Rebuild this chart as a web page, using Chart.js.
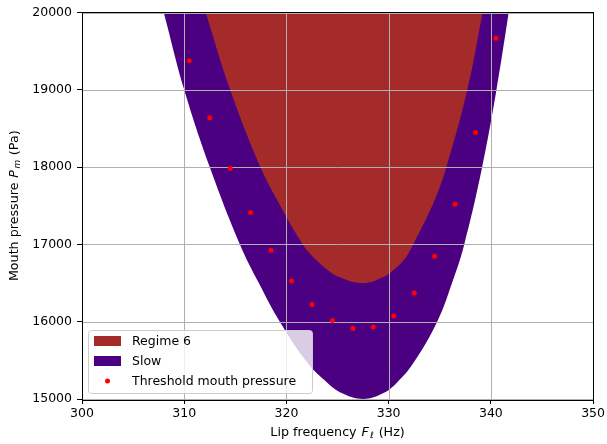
<!DOCTYPE html>
<html>
<head>
<meta charset="utf-8">
<script src="https://cdn.jsdelivr.net/npm/chart.js@4.4.1/dist/chart.umd.min.js"></script>
<style>
  body { margin: 0; background: #fff; }
  #wrap { width: 607px; height: 444px; }
</style>
</head>
<body>
<div id="wrap"><canvas id="chart" width="607" height="444"></canvas></div>
<script>
// threshold mouth pressure, one point every 2 Hz
const lipFreq = [310.5, 312.5, 314.5, 316.5, 318.5, 320.5, 322.5, 324.5,
                 326.5, 328.5, 330.5, 332.5, 334.5, 336.5, 338.5, 340.5];
const thresholdPm = [19376, 18640, 17982, 17412, 16925, 16527, 16221, 16015,
                     15912, 15930, 16075, 16372, 16846, 17520, 18446, 19667];

// lower edge of the "Slow" region (filled up to the top)
const slowEdgeF  = [308.0, 310.0, 312.5, 315.45, 317.3, 319.35, 322.1, 324.0, 325.4, 327.5,
                    329.5, 330.8, 332.4, 334.75, 336.2, 337.4, 339.15, 340.55, 341.75];
const slowEdgePm = [20000, 19000, 18000, 17000, 16500, 16000, 15461, 15210, 15077, 15000,
                    15077, 15210, 15461, 16000, 16500, 17000, 18000, 19000, 20000];

// lower edge of the "Regime 6" region
const regime6EdgeF  = [312.1, 314.5, 317.45, 319.1, 321.6, 322.9, 324.0, 325.0, 327.5,
                       329.6, 330.5, 331.5, 332.4, 334.5, 335.65, 337.7, 339.2];
const regime6EdgePm = [20000, 19000, 18000, 17571, 17000, 16800, 16671, 16585, 16499,
                       16585, 16671, 16800, 17000, 17571, 18000, 19000, 20000];

const xTicks = [300, 310, 320, 330, 340, 350];
const yTicks = [15000, 16000, 17000, 18000, 19000, 20000];

const legendOrder = ['Regime 6', 'Slow', 'Threshold mouth pressure'];

const FONT = "'DejaVu Sans', sans-serif";
const FSIZE = 12.5;
const TSIZE = 12.7;

function toPoints(xs, ys) {
  return xs.map((x, i) => ({ x: x, y: ys[i] }));
}

// grid goes above the filled regions but below the points
const gridOnTop = {
  id: 'gridOnTop',
  beforeDatasetDraw(chart, args) {
    if (args.index !== 0) return;
    const { ctx, chartArea: a, scales } = chart;
    ctx.save();
    ctx.strokeStyle = '#b0b0b0';
    ctx.lineWidth = 1;
    xTicks.forEach(v => {
      const px = Math.round(scales.x.getPixelForValue(v)) + 0.5;
      ctx.beginPath(); ctx.moveTo(px, a.top); ctx.lineTo(px, a.bottom); ctx.stroke();
    });
    yTicks.forEach(v => {
      const py = Math.round(scales.y.getPixelForValue(v)) + 0.5;
      ctx.beginPath(); ctx.moveTo(a.left, py); ctx.lineTo(a.right, py); ctx.stroke();
    });
    ctx.restore();
  }
};

// parts: [text, italic, sub]; math parts get a little extra room like mathtext
function drawMixed(ctx, parts, cx, cy) {
  let w = 0;
  parts.forEach(p => {
    ctx.font = (p[1] ? 'italic ' : '') + (p[2] ? TSIZE * 0.7 : TSIZE) + 'px ' + FONT;
    p.w = ctx.measureText(p[0]).width + (p[1] ? 1.5 : 0);
    w += p.w;
  });
  let x = cx - w / 2;
  parts.forEach(p => {
    ctx.font = (p[1] ? 'italic ' : '') + (p[2] ? TSIZE * 0.7 : TSIZE) + 'px ' + FONT;
    ctx.fillText(p[0], x + (p[1] ? 0.75 : 0), p[2] ? cy + 3 : cy);
    x += p.w;
  });
}

const frameAndLegend = {
  id: 'frameAndLegend',
  afterDraw(chart) {
    const { ctx, chartArea: a } = chart;
    ctx.save();
    // spines
    ctx.strokeStyle = '#000';
    ctx.lineWidth = 1;
    ctx.strokeRect(Math.round(a.left) + 0.5, Math.round(a.top) - 0.5,
                   Math.round(a.right - a.left), Math.round(a.bottom - a.top) + 1);

    // axis titles
    ctx.fillStyle = '#000';
    ctx.textBaseline = 'middle';
    ctx.textAlign = 'left';
    drawMixed(ctx, [['Lip frequency '], ['F', true], ['\u2113', true, true], [' (Hz)']],
              (a.left + a.right) / 2, 433);
    ctx.save();
    ctx.translate(15, (a.top + a.bottom) / 2);
    ctx.rotate(-Math.PI / 2);
    drawMixed(ctx, [['Mouth pressure '], ['P', true], ['m', true, true], [' (Pa)']], 0, 0);
    ctx.restore();

    // legend box, lower left
    const bx = a.left + 6, by = a.bottom - 69, bw = 224, bh = 63;
    ctx.beginPath();
    ctx.roundRect(bx + 0.5, by + 0.5, bw, bh, 3);
    ctx.fillStyle = 'rgba(255,255,255,0.8)';
    ctx.fill();
    ctx.strokeStyle = '#cccccc';
    ctx.lineWidth = 1;
    ctx.stroke();

    const rows = [by + 11, by + 31, by + 51];
    ctx.font = FSIZE + 'px ' + FONT;
    ctx.textBaseline = 'middle';
    legendOrder.forEach((name, i) => {
      const ds = chart.data.datasets.find(d => d.label === name);
      const cy = rows[i];
      if (ds.fill) {
        ctx.fillStyle = ds.backgroundColor;
        ctx.fillRect(bx + 6, cy - 5, 27, 10);
      } else {
        ctx.fillStyle = ds.pointBackgroundColor;
        ctx.beginPath(); ctx.arc(bx + 19.5, cy, 2.5, 0, Math.PI * 2); ctx.fill();
      }
      ctx.fillStyle = '#000';
      ctx.fillText(ds.label, bx + 44, cy + 1);
    });
    ctx.restore();
  }
};

const ctx = document.getElementById('chart').getContext('2d');
const myChart = new Chart(ctx, {
  type: 'scatter',
  data: {
    datasets: [
      {
        label: 'Threshold mouth pressure',
        data: toPoints(lipFreq, thresholdPm),
        pointRadius: 2.5,
        pointBackgroundColor: '#ff0000',
        pointBorderWidth: 0,
        showLine: false,
        fill: false
      },
      {
        label: 'Regime 6',
        data: toPoints(regime6EdgeF, regime6EdgePm),
        showLine: true,
        tension: 0.4,
        backgroundColor: '#a52a2a',
        borderColor: '#a52a2a',
        borderWidth: 0,
        pointRadius: 0,
        fill: 'end'
      },
      {
        label: 'Slow',
        data: toPoints(slowEdgeF, slowEdgePm),
        showLine: true,
        tension: 0.4,
        backgroundColor: '#4b0082',
        borderColor: '#4b0082',
        borderWidth: 0,
        pointRadius: 0,
        fill: 'end'
      }
    ]
  },
  options: {
    responsive: false,
    animation: false,
    layout: { padding: { top: 12, right: 13, left: 0, bottom: 0 } },
    plugins: {
      legend: { display: false },
      tooltip: { enabled: false }
    },
    scales: {
      x: {
        type: 'linear',
        min: 300, max: 350,
        afterFit: s => { s.height = 45; },
        afterBuildTicks: s => { s.ticks = xTicks.map(v => ({ value: v })); },
        border: { display: false },
        grid: { drawOnChartArea: false, color: '#000', tickLength: 5, lineWidth: 1 },
        ticks: { color: '#000', padding: 2, maxRotation: 0,
                 font: { family: FONT, size: FSIZE },
                 callback: v => String(v) }
      },
      y: {
        type: 'linear',
        min: 15000, max: 20000,
        afterFit: s => { s.width = 82; },
        afterBuildTicks: s => { s.ticks = yTicks.map(v => ({ value: v })); },
        border: { display: false },
        grid: { drawOnChartArea: false, color: '#000', tickLength: 5, lineWidth: 1 },
        ticks: { color: '#000', padding: 5,
                 font: { family: FONT, size: FSIZE },
                 callback: v => String(v) }
      }
    }
  },
  plugins: [gridOnTop, frameAndLegend]
});
</script>
</body>
</html>
